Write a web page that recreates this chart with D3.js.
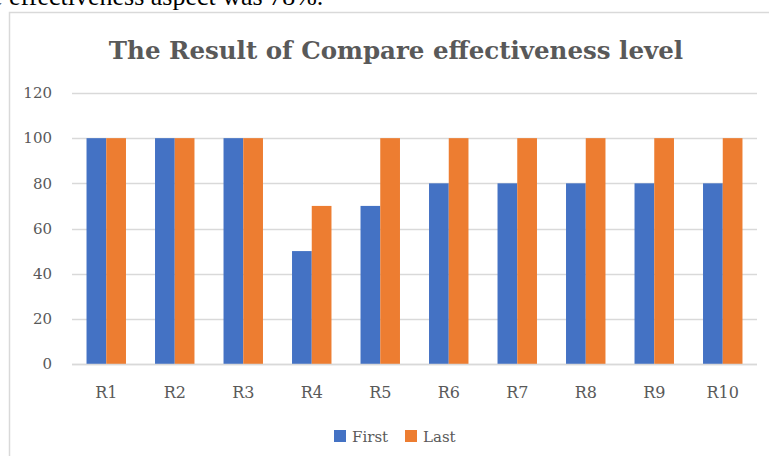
<!DOCTYPE html>
<html lang="en">
  <head>
    <meta charset="utf-8">
    <title>The Result of Compare effectiveness level</title>
    <script src="https://d3js.org/d3.v7.min.js"></script>
    <style>
      body { margin: 0; background: #fff; }
      svg text { font-family: "DejaVu Serif", serif; }
    </style>
  </head>
  <body>
    <svg></svg>

    <script>
      // dados
      const categorias = ['R1', 'R2', 'R3', 'R4', 'R5', 'R6', 'R7', 'R8', 'R9', 'R10']
      const first = [100, 100, 100, 50, 70, 80, 80, 80, 80, 80]
      const last = [100, 100, 100, 70, 100, 100, 100, 100, 100, 100]
      const yTicks = [0, 20, 40, 60, 80, 100, 120]
      const series = [
        { nome: 'First', valores: first, cor: '#4472C4' },
        { nome: 'Last', valores: last, cor: '#ED7D31' }
      ]

      const W = 769, H = 456
      const svg = d3.select('svg')
        .attr('width', W)
        .attr('height', H)

      // linha de texto do documento, cortada no topo
      svg.append('text')
        .attr('x', -9)
        .attr('y', 5)
        .style('font-family', '"Liberation Serif", serif')
        .style('font-size', '26px')
        .style('fill', '#000')
        .text('e effectiveness aspect was 78%.')

      // moldura do gráfico
      svg.append('rect')
        .attr('x', 9.5)
        .attr('y', 12.5)
        .attr('width', W + 20)
        .attr('height', H)
        .attr('fill', '#fff')
        .attr('stroke', '#d9d9d9')
        .attr('stroke-width', 1.5)

      // título
      svg.append('text')
        .attr('x', 396)
        .attr('y', 59)
        .attr('text-anchor', 'middle')
        .style('font-size', '24.5px')
        .style('font-weight', 'bold')
        .style('fill', '#595959')
        .text('The Result of Compare effectiveness level')

      const x = d3.scaleBand()
        .domain(categorias)
        .range([72, 757])
        .paddingInner(0.424)
        .paddingOuter(0.212)

      const y = d3.scaleLinear()
        .domain([0, 120])
        .range([364, 93])

      const xs = d3.scaleBand()
        .domain(series.map(s => s.nome))
        .range([0, x.bandwidth()])

      // grade
      svg.append('g')
        .selectAll('line')
        .data(yTicks)
        .join('line')
          .attr('x1', 72)
          .attr('x2', 757)
          .attr('y1', d => Math.round(y(d)) + 0.5)
          .attr('y2', d => Math.round(y(d)) + 0.5)
          .attr('stroke', '#d9d9d9')
          .attr('stroke-width', 1.5)

      // eixo y
      const eixoY = svg.append('g')
        .attr('transform', 'translate(52, 0)')
        .call(d3.axisLeft(y).tickValues(yTicks).tickSize(0).tickPadding(0))
      eixoY.select('.domain').remove()
      eixoY.selectAll('text')
        .style('font-size', '15px')
        .style('font-family', '"DejaVu Serif", serif')
        .style('fill', '#595959')

      // barras
      series.forEach(s => {
        svg.append('g')
          .selectAll('rect')
          .data(s.valores)
          .join('rect')
            .attr('x', (d, i) => x(categorias[i]) + xs(s.nome))
            .attr('y', d => y(d))
            .attr('width', xs.bandwidth())
            .attr('height', d => y(0) - y(d))
            .attr('fill', s.cor)
      })

      // linha do zero por cima
      svg.append('line')
        .attr('x1', 72).attr('x2', 757)
        .attr('y1', Math.round(y(0)) + 0.5).attr('y2', Math.round(y(0)) + 0.5)
        .attr('stroke', '#d9d9d9')
        .attr('stroke-width', 1.5)

      // eixo x
      const eixoX = svg.append('g')
        .attr('transform', 'translate(0, 398)')
        .call(d3.axisBottom(x).tickSize(0).tickPadding(0))
      eixoX.select('.domain').remove()
      eixoX.selectAll('text')
        .attr('dy', 0)
        .style('font-size', '16px')
        .style('font-family', '"DejaVu Serif", serif')
        .style('fill', '#595959')

      // legenda
      const legenda = svg.append('g')
      const posLeg = [334, 405]
      series.forEach((s, i) => {
        legenda.append('rect')
          .attr('x', posLeg[i])
          .attr('y', 430)
          .attr('width', 12)
          .attr('height', 12)
          .attr('fill', s.cor)
        legenda.append('text')
          .attr('x', posLeg[i] + 18)
          .attr('y', 442)
          .style('font-size', '15px')
          .style('fill', '#595959')
          .text(s.nome)
      })
    </script>
  </body>
</html>
